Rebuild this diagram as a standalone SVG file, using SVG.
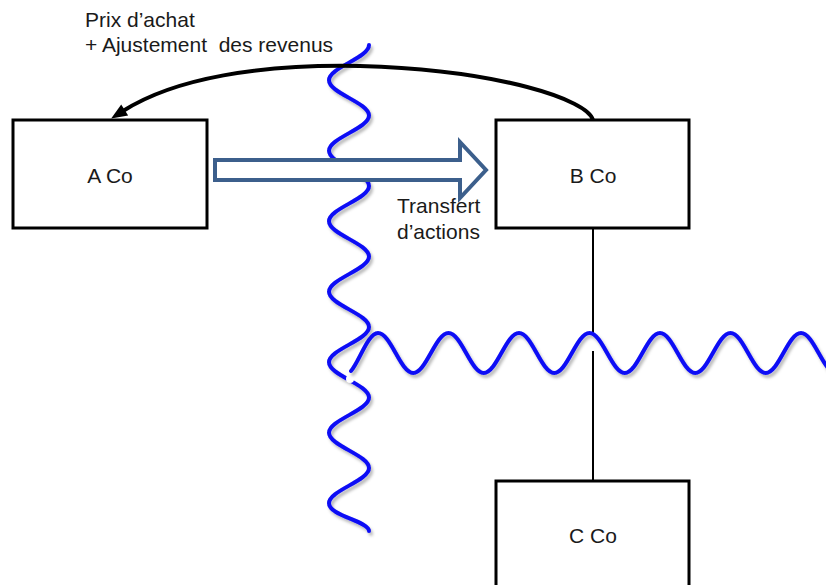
<svg xmlns="http://www.w3.org/2000/svg" width="826" height="585" viewBox="0 0 826 585">
  <style>
    .box { fill: #ffffff; stroke: #000000; stroke-width: 3; }
    .lbl { font-family: "Liberation Sans", Arial, sans-serif; font-size: 21px; fill: #1a1a1a; }
    .mid { text-anchor: middle; }
    .wave { fill: none; stroke: #0a0af5; stroke-width: 4; stroke-linecap: round; }
    .link { fill: none; stroke: #000000; stroke-width: 2; }
    .flow { fill: none; stroke: #000000; stroke-width: 4; }
  </style>
  <defs>
    <filter id="soft-shadow" x="-10%" y="-10%" width="130%" height="130%">
      <feDropShadow dx="2" dy="3" stdDeviation="1.5" flood-color="#000000" flood-opacity="0.28"/>
    </filter>
    <marker id="head" markerUnits="userSpaceOnUse" markerWidth="18" markerHeight="16" refX="2" refY="0" viewBox="0 -8 18 16" orient="auto" overflow="visible">
      <path d="M0,-6.5 L16,0 L0,6.5 z" fill="#000000"/>
    </marker>
  </defs>

  <g id="connectors">
    <!-- ownership link B Co to C Co, interrupted under the horizontal border -->
    <line class="link" x1="593" y1="228" x2="593" y2="333"/>
    <line class="link" x1="593" y1="351" x2="593" y2="481"/>

    <!-- vertical border (wavy) -->
    <path class="wave" filter="url(#soft-shadow)" d="M369,45 C369,57.8 329,67.45 329,80.25 S369,102.7 369,115.5 S329,137.95 329,150.75 S369,173.2 369,186 S329,208.45 329,221.25 S369,243.7 369,256.5 S329,278.95 329,291.75 S369,314.2 369,327 S329,349.45 329,362.25 S369,384.7 369,397.5 S329,419.95 329,432.75 S369,455.2 369,468 S329,490.45 329,503.25 S369,521 369,531"/>

    <!-- horizontal border (wavy) -->
    <circle cx="350" cy="379" r="4" fill="#ffffff"/>
    <path class="wave" filter="url(#soft-shadow)" d="M351,371 C359,362 368,333 378,333 C390.8,333 400.45,373 413.25,373 S435.7,333 448.5,333 S470.95,373 483.75,373 S506.2,333 519,333 S541.45,373 554.25,373 S576.7,333 589.5,333 S611.95,373 624.75,373 S647.2,333 660,333 S682.45,373 695.25,373 S717.7,333 730.5,333 S752.95,373 765.75,373 S788.2,333 801,333 S823.45,373 836.25,373"/>

    <!-- share transfer (hollow block arrow) -->
    <polygon points="215,160 460,160 460,142 486,170 460,198 460,180 215,180" fill="#ffffff" stroke="#3c5f8c" stroke-width="4" stroke-linejoin="miter"/>

    <!-- purchase price flow back to A Co -->
    <path class="flow" marker-end="url(#head)" d="M593,120 C588,100 500,70 360,66 C260,64 175,78 123,111"/>
  </g>

  <g id="a-co">
    <rect class="box" x="13" y="120" width="194" height="108"/>
    <text class="lbl mid" x="110" y="183">A Co</text>
  </g>

  <g id="b-co">
    <rect class="box" x="496" y="120" width="193" height="108"/>
    <text class="lbl mid" x="593" y="183">B Co</text>
  </g>

  <g id="c-co">
    <rect class="box" x="496" y="481" width="193" height="120"/>
    <text class="lbl mid" x="593" y="543">C Co</text>
  </g>

  <g id="labels">
    <text class="lbl" x="85" y="27">Prix d’achat</text>
    <text class="lbl" x="85" y="52" xml:space="preserve">+ Ajustement  des revenus</text>
    <text class="lbl" x="397" y="213">Transfert</text>
    <text class="lbl" x="397" y="239">d’actions</text>
  </g>
</svg>
